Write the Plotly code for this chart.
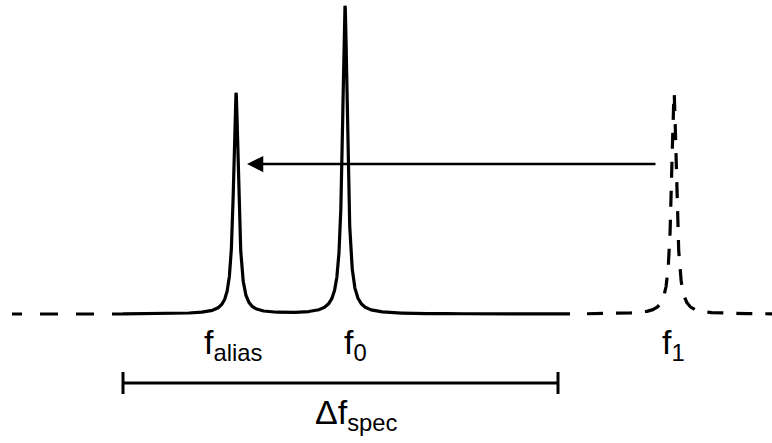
import numpy as np
import plotly.graph_objects as go

# Spectral lines: name, centre frequency, amplitude, Lorentzian half-width (arbitrary units)
line_names = ["alias", "0", "1"]
line_freqs = [236, 345, 674]
line_amps = [221, 308, 221]
line_hwhm = [3.0, 3.0, 3.0]
# Horizontal placement of each line's label
label_pos = [233, 355, 673]

baseline = 129
# Measured spectral window (solid) versus the region outside it (dashed)
window_lo, window_hi = 123, 570
left_dash_start, right_dash_start = 12, 587
freq_max = 772

# Spectral width bracket and alias arrow
spec_lo, spec_hi = 123, 558
bracket_level, bracket_tick = 60, 11
arrow_from, arrow_to, arrow_level = 657, 247, 279


def spectrum(f, names):
    s = np.full_like(f, baseline, dtype=float)
    for n, f0, a, g in zip(line_names, line_freqs, line_amps, line_hwhm):
        if n in names:
            s += a / (1.0 + ((f - f0) / g) ** 2)
    return s


line_style = dict(color="black", width=3.2)
fig = go.Figure()

f_solid = np.arange(window_lo, window_hi + 0.01, 0.1)
fig.add_trace(go.Scatter(x=f_solid, y=spectrum(f_solid, ["alias", "0"]), mode="lines",
                         line=line_style, hoverinfo="skip"))

f_left = np.arange(left_dash_start, window_lo + 0.01, 0.5)
fig.add_trace(go.Scatter(x=f_left, y=spectrum(f_left, []), mode="lines",
                         line=dict(color="black", width=3.2,
                                   dash="10px,18px,18px,18px,18px,18px,18px,18px"),
                         hoverinfo="skip"))

f_right = np.arange(right_dash_start, freq_max + 0.01, 0.1)
fig.add_trace(go.Scatter(x=f_right, y=spectrum(f_right, ["1"]), mode="lines",
                         line=dict(color="black", width=3.2, dash="16px,13px"),
                         hoverinfo="skip"))

# Δf_spec bracket
fig.add_trace(go.Scatter(
    x=[spec_lo, spec_lo, None, spec_lo, spec_hi, None, spec_hi, spec_hi],
    y=[bracket_level - bracket_tick, bracket_level + bracket_tick, None,
       bracket_level, bracket_level, None,
       bracket_level - bracket_tick, bracket_level + bracket_tick],
    mode="lines", line=dict(color="black", width=3), hoverinfo="skip"))

font = dict(family="Liberation Sans, Arial", size=34, color="black")
annotations = [
    dict(x=arrow_to, y=arrow_level, ax=arrow_from, ay=arrow_level, axref="x", ayref="y",
         xref="x", yref="y", text="", showarrow=True, arrowhead=2, arrowsize=1.3,
         arrowwidth=2.5, arrowcolor="black", standoff=0),
]
label_y = 99
for n, xpos in zip(line_names, label_pos):
    annotations.append(dict(x=xpos, y=label_y, xref="x", yref="y", showarrow=False,
                            text=f"f<sub>{n}</sub>", xanchor="center", yanchor="middle",
                            font=font))
annotations.append(dict(x=356, y=29, xref="x", yref="y", showarrow=False,
                        text="Δf<sub>spec</sub>", xanchor="center", yanchor="middle",
                        font=font))

fig.update_layout(
    width=772, height=443, margin=dict(l=0, r=0, t=0, b=0),
    paper_bgcolor="white", plot_bgcolor="white", showlegend=False,
    xaxis=dict(range=[0, 772], visible=False, fixedrange=True),
    yaxis=dict(range=[0, 443], visible=False, fixedrange=True),
    annotations=annotations,
)

fig.write_html("out.html")
